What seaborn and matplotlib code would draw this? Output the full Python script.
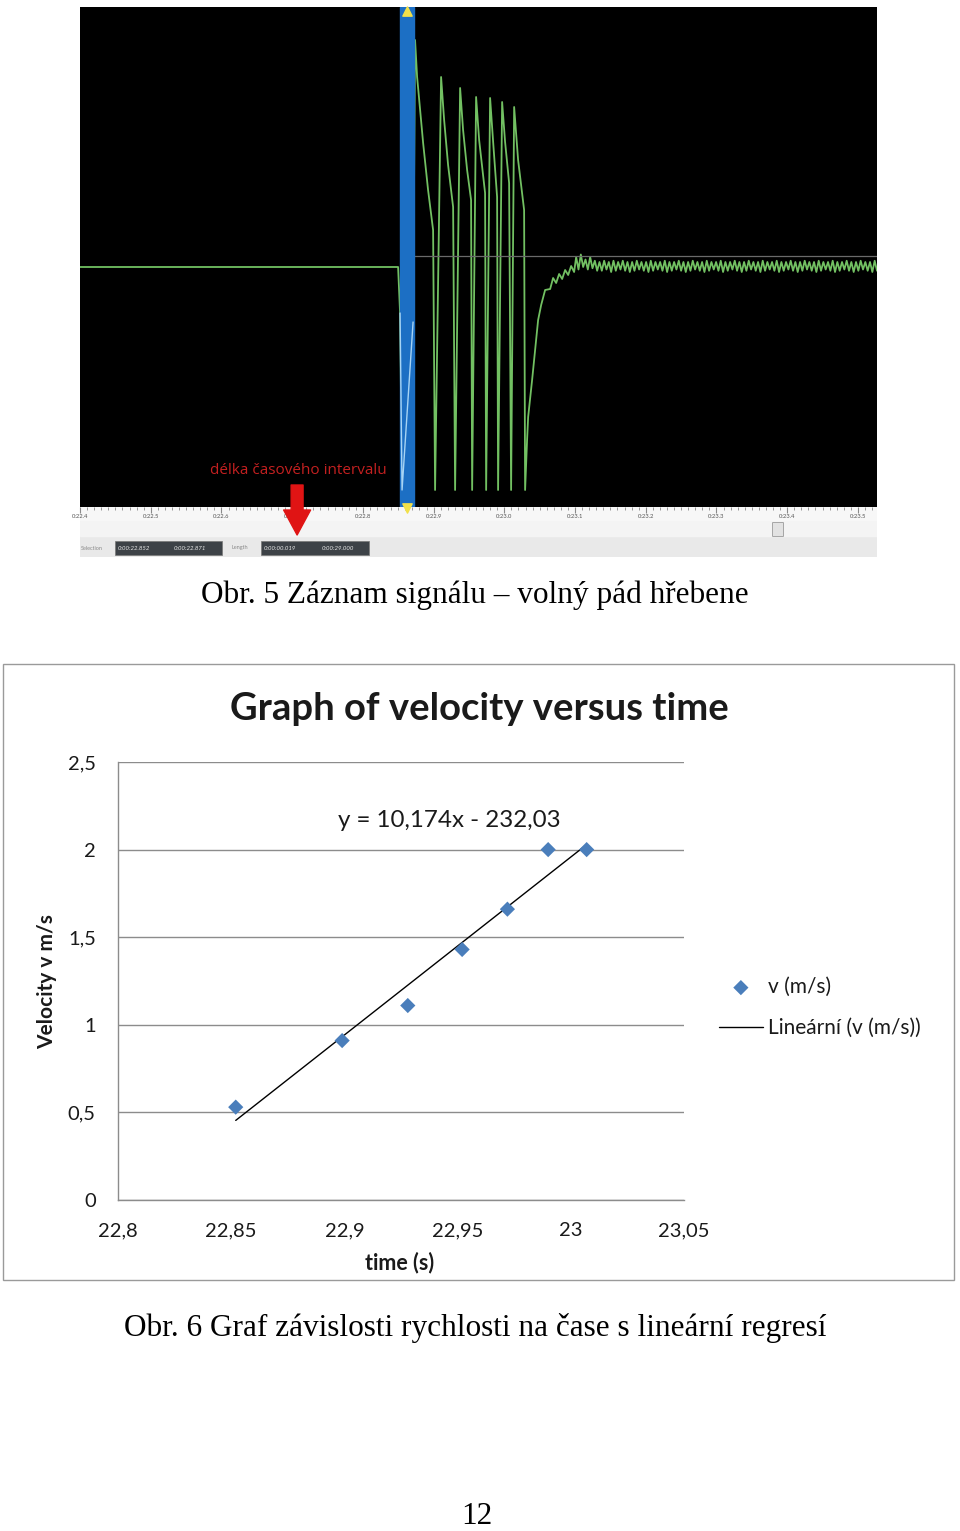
import numpy as np
import matplotlib
matplotlib.use('Agg')
import matplotlib.pyplot as plt
from matplotlib.patches import Rectangle, FancyBboxPatch
from matplotlib.ticker import MultipleLocator
import seaborn as sns

sns.set_theme(style='white')
plt.rcParams['font.family'] = ['Lato', 'DejaVu Sans']

# ---- data: recorded signal (time in s, relative amplitude) ----
trace_t = [22.400, 22.8498, 22.8526, 22.8554, 22.8710, 22.8738, 22.8767, 22.8852, 22.8922, 22.8993,
           22.9021, 22.9106, 22.9149, 22.9205, 22.9276, 22.9304, 22.9375, 22.9417, 22.9474, 22.9530,
           22.9545, 22.9601, 22.9644, 22.9728, 22.9743, 22.9799, 22.9842, 22.9898, 22.9912, 22.9969,
           23.0011, 23.0068, 23.0096, 23.0139, 23.0195, 23.0280, 23.0294, 23.0322, 23.0337, 23.0393,
           23.0436, 23.0478, 23.0521, 23.0577, 23.0648, 23.0690, 23.0733, 23.0775, 23.0818, 23.0860,
           23.0903, 23.0945, 23.0987]
trace_v = [-0.04, -0.04, -0.224, -0.932, -0.26, 0.868, 0.72, 0.456, 0.268, 0.108,
           -0.932, 0.72, 0.548, 0.368, 0.20, -0.932, 0.676, 0.508, 0.348, 0.228,
           -0.932, 0.64, 0.468, 0.256, -0.932, 0.636, 0.46, 0.24, -0.932, 0.62,
           0.46, 0.296, -0.932, 0.60, 0.388, 0.188, -0.932, -0.732, -0.64, -0.492,
           -0.372, -0.252, -0.192, -0.132, -0.128, -0.084, -0.104, -0.068, -0.088, -0.052,
           -0.072, -0.036, -0.06]
# ringing after the fall, sampled evenly up to the end of the window
ripple_v = [0.00, -0.05, 0.01, -0.04, -0.01, -0.05, 0.00, -0.045, -0.015, -0.055,
            -0.02, -0.055, -0.015, -0.05, -0.02, -0.06, -0.015, -0.055, -0.02, -0.05,
            -0.015, -0.055, -0.02, -0.06, -0.02, -0.055, -0.015, -0.05, -0.02, -0.055,
            -0.02, -0.06, -0.015, -0.055, -0.02, -0.05, -0.02, -0.055, -0.015, -0.06,
            -0.02, -0.055, -0.02, -0.05, -0.015, -0.055, -0.02, -0.06, -0.02, -0.055,
            -0.015, -0.05, -0.02, -0.055, -0.02, -0.06, -0.015, -0.055, -0.02, -0.05,
            -0.02, -0.055, -0.015, -0.06, -0.02, -0.055, -0.02, -0.05, -0.015, -0.055,
            -0.02, -0.06, -0.02, -0.055, -0.015, -0.05, -0.02, -0.055, -0.02, -0.06,
            -0.015, -0.055, -0.02, -0.05, -0.02, -0.055, -0.015, -0.06, -0.02, -0.055,
            -0.02, -0.05, -0.015, -0.055, -0.02, -0.06, -0.02, -0.055, -0.015, -0.05,
            -0.02, -0.055, -0.02, -0.06, -0.015, -0.055, -0.02, -0.05, -0.02, -0.055,
            -0.015, -0.06, -0.02, -0.055, -0.02, -0.05, -0.015, -0.055, -0.02, -0.06,
            -0.02, -0.055, -0.015, -0.05, -0.02, -0.055, -0.02, -0.06, -0.015, -0.055]
ripple_start, window_end = 23.1016, 23.527
sel_start, sel_end = 22.8526, 22.8724
ruler_ticks = [22.4, 22.5, 22.6, 22.7, 22.8, 22.9, 23.0, 23.1, 23.2, 23.3, 23.4, 23.5]
ruler_labels = ['0:22.4', '0:22.5', '0:22.6', '0:22.7', '0:22.8', '0:22.9',
                '0:23.0', '0:23.1', '0:23.2', '0:23.3', '0:23.4', '0:23.5']

# ---- data: velocity vs time ----
time_s = [22.852, 22.899, 22.928, 22.952, 22.972, 22.990, 23.007]
velocity = [0.53, 0.91, 1.11, 1.43, 1.66, 2.00, 2.00]
x_ticks = [22.8, 22.85, 22.9, 22.95, 23.0, 23.05]
x_labels = ['22,8', '22,85', '22,9', '22,95', '23', '23,05']
y_ticks = [0, 0.5, 1, 1.5, 2, 2.5]
y_labels = ['0', '0,5', '1', '1,5', '2', '2,5']

W, H = 960, 1531
fig = plt.figure(figsize=(W / 100, H / 100), dpi=100)
fig.patch.set_facecolor('white')


def box(x0, y0, x1, y1):
    return fig.add_axes([x0 / W, 1 - y1 / H, (x1 - x0) / W, (y1 - y0) / H])


# ---- top: signal screenshot ----
sig = box(80, 7, 877, 507)
sig.set_facecolor('black')
all_t = trace_t + list(np.linspace(ripple_start, window_end, len(ripple_v)))
all_v = trace_v + ripple_v
sns.lineplot(x=all_t, y=all_v, sort=False, estimator=None, color='#72c062', lw=1.3, ax=sig)
sig.axvspan(sel_start, sel_end, color='#1c6fc4', zorder=3)
sig.plot(trace_t[2:5], trace_v[2:5], color='#a6d4f5', lw=1, zorder=4)
sig.hlines(0.004, sel_end, window_end, color='#6a6a6a', lw=0.9)
sig.scatter([(sel_start + sel_end) / 2], [0.985], marker='^', s=45, color='#f2e14a', zorder=5, clip_on=False)
sig.set_xlim(22.4, window_end)
sig.set_ylim(-1, 1)
sig.set_xticks([])
sig.set_yticks([])
for s in sig.spines.values():
    s.set_visible(False)
sig.text(22.708, -0.856, 'délka časového intervalu', color='#c42020', fontsize=11,
         family=['Open Sans', 'DejaVu Sans'], ha='center', va='center')

# ruler
rul = box(80, 507, 877, 521)
rul.set_facecolor('#f7f7f7')
rul.set_xlim(22.4, window_end)
rul.set_ylim(0, 1)
rul.set_xticks(ruler_ticks)
rul.xaxis.set_minor_locator(MultipleLocator(0.01))
rul.tick_params(which='both', top=True, bottom=False, direction='in', color='#8a8a8a',
                labelbottom=False, labeltop=False, labelleft=False)
rul.tick_params(which='major', length=4.5, width=0.8)
rul.tick_params(which='minor', length=2.5, width=0.6)
rul.set_yticks([])
for s in rul.spines.values():
    s.set_visible(False)
for t, lab in zip(ruler_ticks, ruler_labels):
    rul.text(t, 0.3, lab, fontsize=4.2, color='#555555', ha='center', va='center')
rul.scatter([(sel_start + sel_end) / 2], [0.9], marker='v', s=45, color='#f2e14a', zorder=5, clip_on=False)

# status bar
st = box(80, 521, 877, 557)
st.set_facecolor('#e9e9e9')
st.set_xlim(80, 877)
st.set_ylim(557, 521)
st.axhspan(521, 536, color='#f4f4f4')
st.set_xticks([])
st.set_yticks([])
for s in st.spines.values():
    s.set_visible(False)
st.add_patch(Rectangle((115, 541), 107, 14, fc='#3d4247', ec='#777777', lw=0.5))
st.add_patch(Rectangle((261, 541), 108, 14, fc='#3d4247', ec='#777777', lw=0.5))
st.text(81, 548, 'Selection', fontsize=4, color='#888888', va='center')
st.text(231, 548, 'Length', fontsize=4, color='#888888', va='center')
for x, lab in [(118, '0:00:22.852'), (174, '0:00:22.871'), (264, '0:00:00.019'), (322, '0:00:29.000')]:
    st.text(x, 548, lab, fontsize=4.3, color='#e8e8e8', style='italic', va='center')
st.add_patch(FancyBboxPatch((773, 523), 10, 13, boxstyle='round,pad=0.5',
                            fc='#e2e2e2', ec='#9a9a9a', lw=0.6))
st.annotate('', xy=(22.707, -1.112), xycoords=sig.transData,
            xytext=(22.707, -0.912), textcoords=sig.transData,
            arrowprops=dict(arrowstyle='simple,head_length=0.9,head_width=0.97,tail_width=0.43',
                            color='#e01414', shrinkA=0, shrinkB=0, mutation_scale=20),
            annotation_clip=False)

serif = ['Liberation Serif', 'DejaVu Serif']
fig.text(475 / W, 1 - 595 / H, 'Obr. 5 Záznam signálu – volný pád hřebene',
         family=serif, fontsize=22.5, ha='center', va='center', color='black')

# ---- bottom: velocity chart ----
fig.add_artist(Rectangle((3 / W, 1 - 1280 / H), 951 / W, 616 / H, transform=fig.transFigure,
                         fill=False, ec='#9a9a9a', lw=1))

ax = box(118, 762, 684, 1200)
sns.scatterplot(x=time_s, y=velocity, marker='D', s=60, color='#4a7ebb', edgecolor='none',
                ax=ax, label='v (m/s)', zorder=3)
sns.regplot(x=time_s, y=velocity, ax=ax, scatter=False, ci=None, truncate=True, color='black',
            label='Lineární (v (m/s))', line_kws=dict(lw=1))
ax.set_xlim(22.8, 23.05)
ax.set_ylim(0, 2.5)
ax.set_xticks(x_ticks)
ax.set_xticklabels(x_labels)
ax.set_yticks(y_ticks)
ax.set_yticklabels(y_labels)
ax.grid(axis='y', color='#8c8c8c', lw=1)
ax.set_axisbelow(True)
for side in ['top', 'right']:
    ax.spines[side].set_visible(False)
for side in ['left', 'bottom']:
    ax.spines[side].set_color('#8c8c8c')
    ax.spines[side].set_linewidth(1)
ax.tick_params(length=0, pad=16, labelsize=14.5, labelcolor='#1a1a1a')
ax.set_xlabel('')
ax.set_ylabel('')

ax.legend(loc='center left', bbox_to_anchor=(719 / W, 1 - 1007.5 / H), bbox_transform=fig.transFigure,
          frameon=False, borderpad=0, borderaxespad=0, fontsize=15, handlelength=2.1,
          handletextpad=0.24, labelspacing=1.0, labelcolor='#1a1a1a')

fig.text(479 / W, 1 - 709 / H, 'Graph of velocity versus time', fontsize=27.5, fontweight='bold',
         ha='center', va='center', color='#1a1a1a')
fig.text(449 / W, 1 - 820 / H, 'y = 10,174x - 232,03', fontsize=17.4, ha='center', va='center',
         color='#1a1a1a')
fig.text(47 / W, 1 - 982 / H, 'Velocity v m/s', fontsize=15, fontweight='bold', rotation=90,
         ha='center', va='center', color='#1a1a1a')
fig.text(400 / W, 1 - 1263 / H, 'time (s)', fontsize=15.5, fontweight='bold',
         ha='center', va='center', color='#1a1a1a')

fig.text(475 / W, 1 - 1328 / H, 'Obr. 6 Graf závislosti rychlosti na čase s lineární regresí',
         family=serif, fontsize=22.5, ha='center', va='center', color='black')
fig.text(477 / W, 1 - 1517 / H, '12', family=serif, fontsize=22.5, ha='center', va='center', color='black')

fig.savefig('out.png', dpi=100)
